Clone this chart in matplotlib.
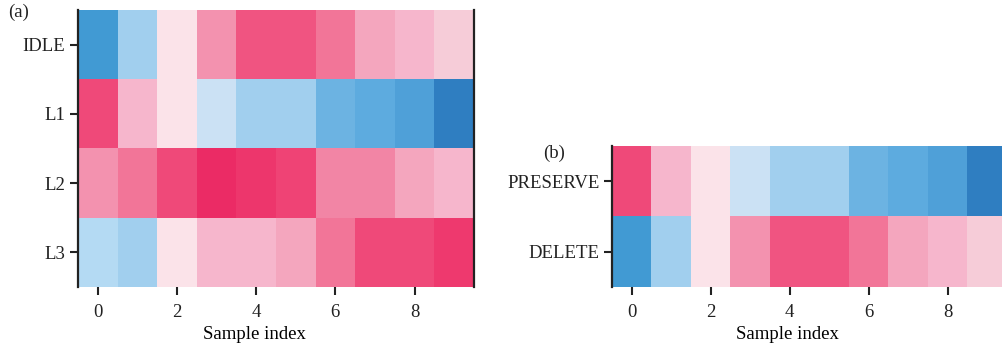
import matplotlib.pyplot as plt
import numpy as np
from matplotlib.colors import LinearSegmentedColormap

plt.rcParams['font.family'] = ['Liberation Serif', 'DejaVu Serif']
plt.rcParams['text.color'] = '#222222'
plt.rcParams['xtick.labelcolor'] = '#222222'
plt.rcParams['ytick.labelcolor'] = '#222222'

# Scores per sample index (0..9)
samples = list(range(10))
idle = [-0.74, -0.2, 0.08, 0.4, 0.7, 0.7, 0.6, 0.32, 0.24, 0.16]
l1 = [0.76, 0.24, 0.08, -0.08, -0.2, -0.2, -0.4, -0.5, -0.64, -1.0]
l2 = [0.4, 0.6, 0.76, 0.98, 0.88, 0.8, 0.5, 0.5, 0.32, 0.24]
l3 = [-0.14, -0.2, 0.08, 0.24, 0.24, 0.32, 0.6, 0.76, 0.76, 0.86]
layer_labels = ['IDLE', 'L1', 'L2', 'L3']

preserve = [0.76, 0.24, 0.08, -0.08, -0.2, -0.2, -0.4, -0.5, -0.64, -1.0]
delete = [-0.74, -0.2, 0.08, 0.4, 0.7, 0.7, 0.6, 0.32, 0.24, 0.16]
op_labels = ['PRESERVE', 'DELETE']

# blue -> pale -> pink colormap
nodes = [(0.0, '#2f7ec1'), (0.13, '#429bd4'), (0.18, '#4fa0d8'), (0.25, '#5dabdf'),
         (0.3, '#6db4e3'), (0.4, '#a1cfee'), (0.43, '#b3daf3'), (0.46, '#cde2f5'),
         (0.5, '#fdf0f4'), (0.54, '#fce4ea'), (0.58, '#f7cdd9'), (0.62, '#f6b6cc'),
         (0.66, '#f4a6be'), (0.7, '#f493b0'), (0.75, '#f287a6'), (0.8, '#f27598'),
         (0.85, '#f05582'), (0.88, '#f04a7a'), (0.94, '#ee376d'), (1.0, '#eb2a64')]
cmap = LinearSegmentedColormap.from_list('bp', nodes)

fig = plt.figure(figsize=(10.02, 3.49), dpi=100)
ax_a = fig.add_axes([0.0778, 0.1777, 0.3952, 0.7936])
ax_b = fig.add_axes([0.6108, 0.1777, 0.3942, 0.404])


def draw(ax, rows, labels, right_spine):
    data = np.array(rows)
    ax.imshow(data, cmap=cmap, vmin=-1, vmax=1, aspect='auto', interpolation='nearest')
    ax.set_yticks(range(len(labels)))
    ax.set_yticklabels(labels, fontsize=13.5)
    ax.set_xticks(samples[::2])
    ax.tick_params(axis='x', labelsize=13.5, length=6, width=1.5, pad=6, color='#222222')
    ax.tick_params(axis='y', length=6, width=1.5, pad=3, color='#222222')
    ax.set_xlabel('Sample index', fontsize=13.5, labelpad=7)
    ax.xaxis.set_label_coords(0.445, -0.14 if len(labels) == 4 else -0.275)
    for s in ['top', 'bottom']:
        ax.spines[s].set_visible(False)
    ax.spines['left'].set_linewidth(1.6)
    ax.spines['left'].set_color('#222222')
    ax.spines['right'].set_visible(right_spine)
    ax.spines['right'].set_linewidth(1.6)
    ax.spines['right'].set_color('#222222')


draw(ax_a, [idle, l1, l2, l3], layer_labels, True)
draw(ax_b, [preserve, delete], op_labels, False)

fig.text(0.008, 0.965, '(a)', fontsize=13.5, va='center')
fig.text(0.542, 0.562, '(b)', fontsize=13.5, va='center')

fig.savefig('out.png', dpi=100)
